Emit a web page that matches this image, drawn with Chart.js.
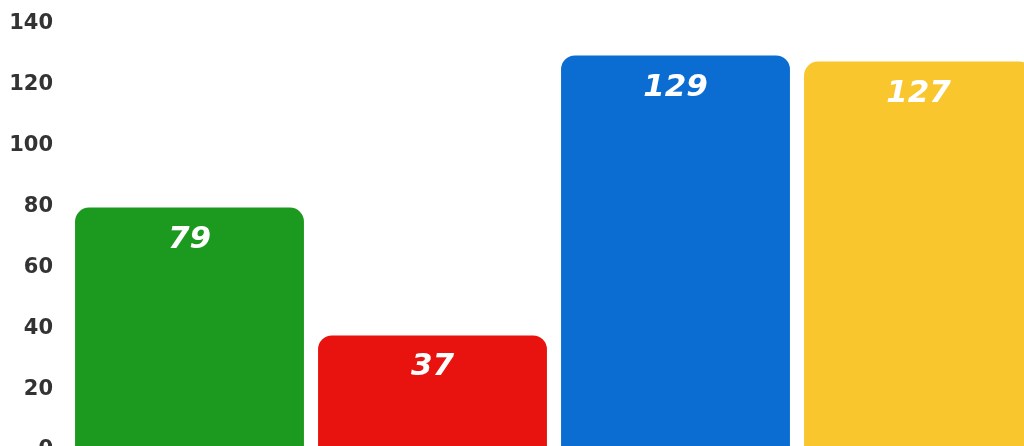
<!DOCTYPE html>
<html>
<head>
<meta charset="utf-8">
<script src="https://cdn.jsdelivr.net/npm/chart.js@4/dist/chart.umd.min.js"></script>
<style>
    html, body { margin: 0; padding: 0; background: #fff; overflow: hidden; width: 1024px; height: 446px; }
    #wrap { position: absolute; left: 0; top: 0; width: 1044px; height: 470px; }
</style>
</head>
<body>
<div id="wrap"><canvas id="bars" width="1044" height="470"></canvas></div>
<script>
(function () {
    'use strict';

    var categories = ['A', 'B', 'C', 'D'];
    var values = [79, 37, 129, 127];
    var barColors = ['#1c9a1f', '#e8130f', '#0b6cd2', '#f9c62d'];
    var yMax = 140;
    var yStep = 20;

    var barLabels = {
        id: 'barLabels',
        afterDatasetsDraw: function (chart) {
            var ctx = chart.ctx;
            var meta = chart.getDatasetMeta(0);
            ctx.save();
            ctx.fillStyle = '#ffffff';
            ctx.textAlign = 'center';
            ctx.textBaseline = 'middle';
            ctx.font = "oblique bold 31px 'DejaVu Sans', sans-serif";
            meta.data.forEach(function (bar, i) {
                ctx.fillText(String(values[i]), bar.x, bar.y + 32);
            });
            ctx.restore();
        }
    };

    new Chart(document.getElementById('bars'), {
        type: 'bar',
        data: {
            labels: categories,
            datasets: [{
                data: values,
                backgroundColor: barColors,
                borderRadius: { topLeft: 14, topRight: 14, bottomLeft: 0, bottomRight: 0 },
                borderSkipped: false,
                categoryPercentage: 1,
                barPercentage: 0.942
            }]
        },
        options: {
            responsive: false,
            animation: false,
            layout: { padding: { top: 22, right: 4, bottom: 22, left: 0 } },
            plugins: { legend: { display: false }, tooltip: { enabled: false } },
            scales: {
                x: { display: false },
                y: {
                    min: 0,
                    max: yMax,
                    afterFit: function (scale) {
                        // keep the tick labels from pushing the plot area in
                        scale.width = 68;
                        scale.paddingTop = 0;
                        scale.paddingBottom = 0;
                    },
                    grid: { display: false, drawTicks: false },
                    border: { display: false },
                    ticks: {
                        stepSize: yStep,
                        padding: 15,
                        labelOffset: 2,
                        color: '#333333',
                        font: { family: "'DejaVu Sans', sans-serif", size: 21, weight: 'bold' }
                    }
                }
            }
        },
        plugins: [barLabels]
    });
})();
</script>
</body>
</html>
